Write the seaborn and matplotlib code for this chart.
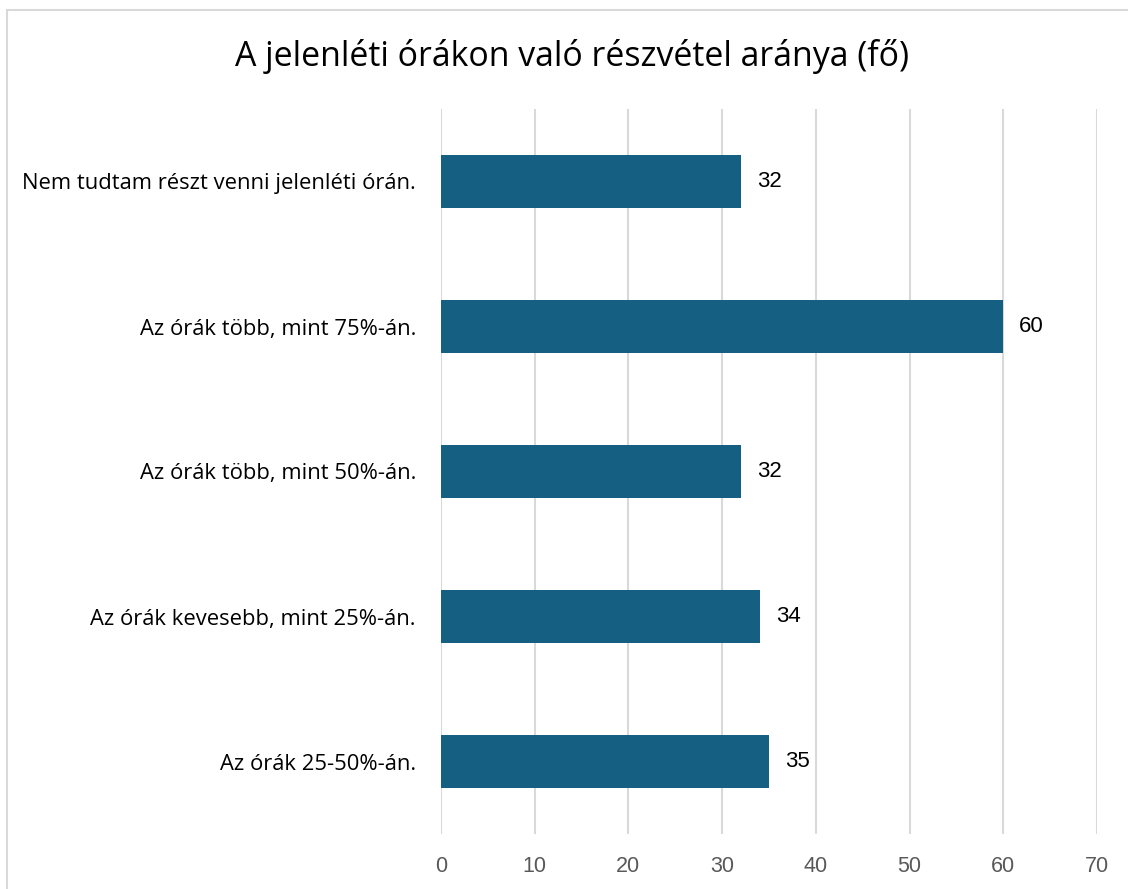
import pandas as pd
import seaborn as sns
from matplotlib import pyplot as plt
from matplotlib.patches import Rectangle

categories = [
    'Nem tudtam részt venni jelenléti órán.',
    'Az órák több, mint 75%-án.',
    'Az órák több, mint 50%-án.',
    'Az órák kevesebb, mint 25%-án.',
    'Az órák 25-50%-án.',
]
counts = [32, 60, 32, 34, 35]
x_ticks = [0, 10, 20, 30, 40, 50, 60, 70]

BAR_COLOR = '#156082'
GRID_COLOR = '#D9D9D9'
TEXT_FONT = ['Open Sans', 'DejaVu Sans']
NUM_FONT = ['Liberation Sans Narrow', 'Liberation Sans', 'DejaVu Sans']

sns.set_theme(style='white')
plt.rcParams['font.family'] = TEXT_FONT

df = pd.DataFrame({'category': categories, 'count': counts})

fig = plt.figure(figsize=(11.28, 8.89), dpi=100)
ax = fig.add_axes([441 / 1128, 1 - 834 / 889, 656 / 1128, 725 / 889])

sns.barplot(data=df, x='count', y='category', orient='h', color=BAR_COLOR,
            width=0.36, saturation=1, linewidth=0, ax=ax, zorder=3)

ax.set_xlim(0, 70)
ax.set_ylim(4.5, -0.5)
ax.set_xticks(x_ticks)
ax.set_xticklabels([str(t) for t in x_ticks], family=NUM_FONT, fontsize=15.5,
                   color='#595959')
ax.set_yticklabels(categories, family=TEXT_FONT, fontsize=15.8, color='black')
ax.tick_params(axis='x', length=0, pad=16)
ax.tick_params(axis='y', length=0, pad=18)
ax.set_xlabel('')
ax.set_ylabel('')

for spine in ax.spines.values():
    spine.set_visible(False)
ax.xaxis.grid(True, color=GRID_COLOR, linewidth=1.5, zorder=0)
ax.yaxis.grid(False)
ax.set_axisbelow(True)

for i, v in enumerate(counts):
    ax.annotate(str(v), (v, i), xytext=(16, 0), textcoords='offset pixels',
                va='center', ha='left', fontsize=16, family=['Liberation Sans', 'DejaVu Sans'],
                color='black')

fig.text(572 / 1128, 1 - 57 / 889, 'A jelenléti órákon való részvétel aránya (fő)',
         ha='center', va='center', fontsize=24.4, color='black', family=TEXT_FONT)

top = 1 - 10 / 889
fig.patches.append(Rectangle((7 / 1128, -0.5), 2, top + 0.5, transform=fig.transFigure,
                             fill=False, edgecolor=GRID_COLOR, linewidth=1.5, clip_on=False))

fig.savefig('out.png', dpi=100)
